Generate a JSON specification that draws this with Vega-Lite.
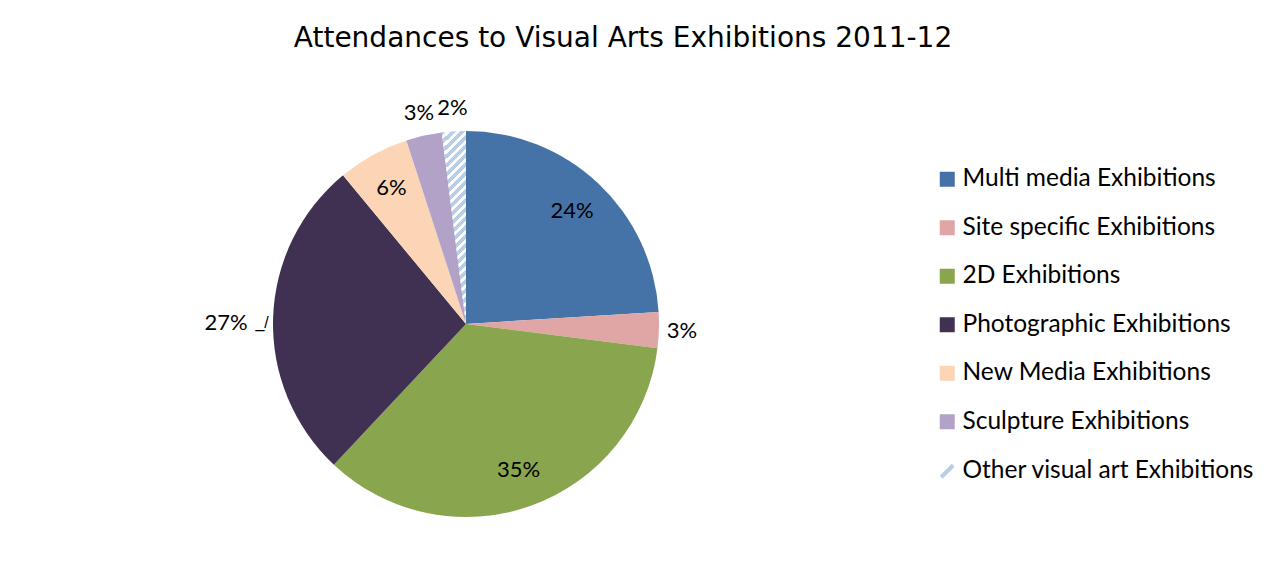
{
  "$schema": "https://vega.github.io/schema/vega-lite/v6.json",
  "autosize": "none",
  "width": 386,
  "height": 386,
  "padding": {"left": 273, "top": 131, "right": 623, "bottom": 55},
  "background": "white",
  "title": {
    "text": "Attendances to Visual Arts Exhibitions 2011-12",
    "font": "DejaVu Sans",
    "fontSize": 28,
    "fontWeight": "normal",
    "color": "#000000",
    "anchor": "middle",
    "frame": "group",
    "baseline": "alphabetic",
    "offset": 5,
    "dx": 157
  },
  "config": {"view": {"stroke": null}},
  "data": {
    "values": [
      {"category": "Multi media Exhibitions", "share": 0.24, "order": 1},
      {"category": "Site specific Exhibitions", "share": 0.03, "order": 2},
      {"category": "2D Exhibitions", "share": 0.35, "order": 3},
      {"category": "Photographic Exhibitions", "share": 0.27, "order": 4},
      {"category": "New Media Exhibitions", "share": 0.06, "order": 5},
      {"category": "Sculpture Exhibitions", "share": 0.03, "order": 6},
      {"category": "Other visual art Exhibitions", "share": 0.02, "order": 7}
    ]
  },
  "encoding": {
    "theta": {"field": "share", "type": "quantitative", "stack": true},
    "order": {"field": "order", "type": "quantitative"}
  },
  "layer": [
    {
      "mark": {"type": "arc", "strokeWidth": 0},
      "encoding": {
        "color": {
          "field": "category",
          "type": "nominal",
          "scale": {
            "domain": ["Multi media Exhibitions", "Site specific Exhibitions", "2D Exhibitions", "Photographic Exhibitions", "New Media Exhibitions", "Sculpture Exhibitions", "Other visual art Exhibitions"],
            "range": ["#4572A7", "#E0A6A5", "#89A54E", "#403152", "#FBD5B6", "#B2A2C7", "#D3E1F0"]
          },
          "legend": {
            "title": null,
            "orient": "none",
            "legendX": 662,
            "legendY": 36,
            "padding": 0,
            "labelFont": "Lato",
            "labelFontSize": 24.5,
            "labelColor": "#000000",
            "labelOffset": 3,
            "labelLimit": 400,
            "symbolType": "square",
            "symbolSize": 225,
            "symbolStrokeWidth": 0,
            "rowPadding": 23.5,
            "encode": {
              "symbols": {
                "update": {
                  "shape": {"signal": "datum.value === 'Other visual art Exhibitions' ? 'M-0.8,0.8L0.8,-0.8' : 'square'"},
                  "stroke": {"value": "#B9CDE5"},
                  "strokeWidth": {"signal": "datum.value === 'Other visual art Exhibitions' ? 4 : 0"}
                }
              }
            }
          }
        }
      }
    },
    {
      "mark": {
        "type": "arc",
        "strokeWidth": 0,
        "fill": {
          "gradient": "linear",
          "x1": 0, "y1": 0, "x2": 0.1315, "y2": 1.1035,
          "stops": [
            {"offset": 0, "color": "#B9CDE5"}, {"offset": 0.0229, "color": "#B9CDE5"}, {"offset": 0.0229, "color": "#FFFFFF"}, {"offset": 0.0417, "color": "#FFFFFF"},
            {"offset": 0.0417, "color": "#B9CDE5"}, {"offset": 0.0646, "color": "#B9CDE5"}, {"offset": 0.0646, "color": "#FFFFFF"}, {"offset": 0.0833, "color": "#FFFFFF"},
            {"offset": 0.0833, "color": "#B9CDE5"}, {"offset": 0.1063, "color": "#B9CDE5"}, {"offset": 0.1063, "color": "#FFFFFF"}, {"offset": 0.125, "color": "#FFFFFF"},
            {"offset": 0.125, "color": "#B9CDE5"}, {"offset": 0.1479, "color": "#B9CDE5"}, {"offset": 0.1479, "color": "#FFFFFF"}, {"offset": 0.1667, "color": "#FFFFFF"},
            {"offset": 0.1667, "color": "#B9CDE5"}, {"offset": 0.1896, "color": "#B9CDE5"}, {"offset": 0.1896, "color": "#FFFFFF"}, {"offset": 0.2083, "color": "#FFFFFF"},
            {"offset": 0.2083, "color": "#B9CDE5"}, {"offset": 0.2313, "color": "#B9CDE5"}, {"offset": 0.2313, "color": "#FFFFFF"}, {"offset": 0.25, "color": "#FFFFFF"},
            {"offset": 0.25, "color": "#B9CDE5"}, {"offset": 0.2729, "color": "#B9CDE5"}, {"offset": 0.2729, "color": "#FFFFFF"}, {"offset": 0.2917, "color": "#FFFFFF"},
            {"offset": 0.2917, "color": "#B9CDE5"}, {"offset": 0.3146, "color": "#B9CDE5"}, {"offset": 0.3146, "color": "#FFFFFF"}, {"offset": 0.3333, "color": "#FFFFFF"},
            {"offset": 0.3333, "color": "#B9CDE5"}, {"offset": 0.3563, "color": "#B9CDE5"}, {"offset": 0.3563, "color": "#FFFFFF"}, {"offset": 0.375, "color": "#FFFFFF"},
            {"offset": 0.375, "color": "#B9CDE5"}, {"offset": 0.3979, "color": "#B9CDE5"}, {"offset": 0.3979, "color": "#FFFFFF"}, {"offset": 0.4167, "color": "#FFFFFF"},
            {"offset": 0.4167, "color": "#B9CDE5"}, {"offset": 0.4396, "color": "#B9CDE5"}, {"offset": 0.4396, "color": "#FFFFFF"}, {"offset": 0.4583, "color": "#FFFFFF"},
            {"offset": 0.4583, "color": "#B9CDE5"}, {"offset": 0.4813, "color": "#B9CDE5"}, {"offset": 0.4813, "color": "#FFFFFF"}, {"offset": 0.5, "color": "#FFFFFF"},
            {"offset": 0.5, "color": "#B9CDE5"}, {"offset": 0.5229, "color": "#B9CDE5"}, {"offset": 0.5229, "color": "#FFFFFF"}, {"offset": 0.5417, "color": "#FFFFFF"},
            {"offset": 0.5417, "color": "#B9CDE5"}, {"offset": 0.5646, "color": "#B9CDE5"}, {"offset": 0.5646, "color": "#FFFFFF"}, {"offset": 0.5833, "color": "#FFFFFF"},
            {"offset": 0.5833, "color": "#B9CDE5"}, {"offset": 0.6063, "color": "#B9CDE5"}, {"offset": 0.6063, "color": "#FFFFFF"}, {"offset": 0.625, "color": "#FFFFFF"},
            {"offset": 0.625, "color": "#B9CDE5"}, {"offset": 0.6479, "color": "#B9CDE5"}, {"offset": 0.6479, "color": "#FFFFFF"}, {"offset": 0.6667, "color": "#FFFFFF"},
            {"offset": 0.6667, "color": "#B9CDE5"}, {"offset": 0.6896, "color": "#B9CDE5"}, {"offset": 0.6896, "color": "#FFFFFF"}, {"offset": 0.7083, "color": "#FFFFFF"},
            {"offset": 0.7083, "color": "#B9CDE5"}, {"offset": 0.7313, "color": "#B9CDE5"}, {"offset": 0.7313, "color": "#FFFFFF"}, {"offset": 0.75, "color": "#FFFFFF"},
            {"offset": 0.75, "color": "#B9CDE5"}, {"offset": 0.7729, "color": "#B9CDE5"}, {"offset": 0.7729, "color": "#FFFFFF"}, {"offset": 0.7917, "color": "#FFFFFF"},
            {"offset": 0.7917, "color": "#B9CDE5"}, {"offset": 0.8146, "color": "#B9CDE5"}, {"offset": 0.8146, "color": "#FFFFFF"}, {"offset": 0.8333, "color": "#FFFFFF"},
            {"offset": 0.8333, "color": "#B9CDE5"}, {"offset": 0.8563, "color": "#B9CDE5"}, {"offset": 0.8563, "color": "#FFFFFF"}, {"offset": 0.875, "color": "#FFFFFF"},
            {"offset": 0.875, "color": "#B9CDE5"}, {"offset": 0.8979, "color": "#B9CDE5"}, {"offset": 0.8979, "color": "#FFFFFF"}, {"offset": 0.9167, "color": "#FFFFFF"},
            {"offset": 0.9167, "color": "#B9CDE5"}, {"offset": 0.9396, "color": "#B9CDE5"}, {"offset": 0.9396, "color": "#FFFFFF"}, {"offset": 0.9583, "color": "#FFFFFF"},
            {"offset": 0.9583, "color": "#B9CDE5"}, {"offset": 0.9813, "color": "#B9CDE5"}, {"offset": 0.9813, "color": "#FFFFFF"}, {"offset": 1, "color": "#FFFFFF"}
          ]
        }
      },
      "encoding": {
        "opacity": {
          "condition": {"test": "datum.category === 'Other visual art Exhibitions'", "value": 1},
          "value": 0
        }
      }
    },
    {
      "mark": {"type": "text", "radius": 155, "font": "Lato", "fontSize": 22, "color": "#000000", "align": "center", "baseline": "middle"},
      "encoding": {
        "text": {"field": "share", "type": "quantitative", "format": ".0%"},
        "opacity": {
          "condition": {"test": "datum.share >= 0.05 && datum.category !== 'Photographic Exhibitions'", "value": 1},
          "value": 0
        }
      }
    },
    {
      "mark": {"type": "text", "radius": 216, "font": "Lato", "fontSize": 22, "color": "#000000", "align": "center", "baseline": "middle"},
      "encoding": {
        "text": {"field": "share", "type": "quantitative", "format": ".0%"},
        "opacity": {
          "condition": {"test": "datum.share < 0.05", "value": 1},
          "value": 0
        }
      }
    },
    {
      "mark": {"type": "text", "radius": 240, "dy": 7, "font": "Lato", "fontSize": 22, "color": "#000000", "align": "center", "baseline": "middle"},
      "encoding": {
        "text": {"field": "share", "type": "quantitative", "format": ".0%"},
        "opacity": {
          "condition": {"test": "datum.category === 'Photographic Exhibitions'", "value": 1},
          "value": 0
        }
      }
    },
    {
      "mark": {"type": "text", "radius": 204, "dy": 5, "font": "Liberation Sans", "fontSize": 16, "color": "#000000", "align": "center", "baseline": "middle", "text": "_/"},
      "encoding": {
        "opacity": {
          "condition": {"test": "datum.category === 'Photographic Exhibitions'", "value": 1},
          "value": 0
        }
      }
    }
  ]
}
